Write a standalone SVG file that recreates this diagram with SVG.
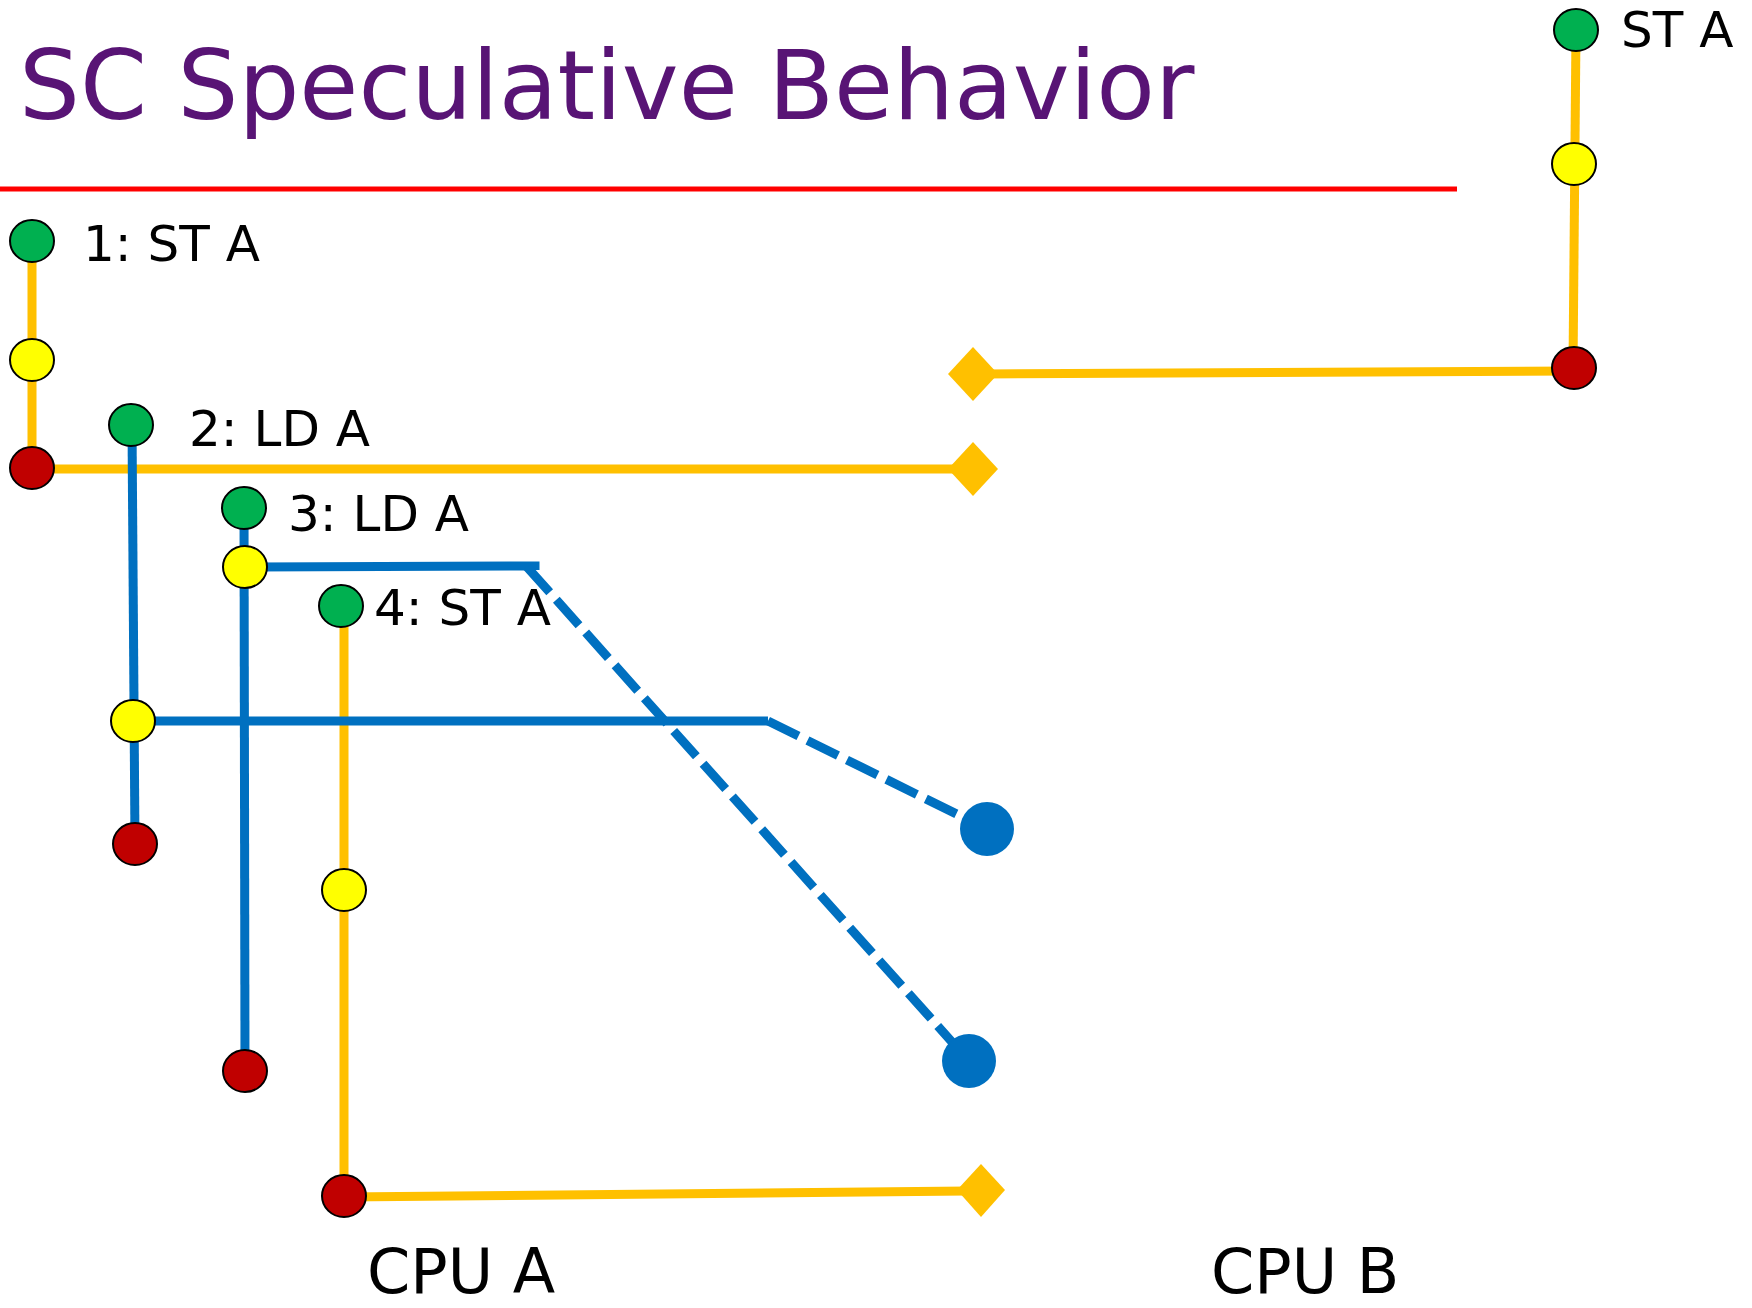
<svg xmlns="http://www.w3.org/2000/svg" width="1752" height="1308" viewBox="0 0 1752 1308">
<style>
.txt{font-family:"DejaVu Sans","Verdana",sans-serif;fill:#000}
.title{font-family:"DejaVu Sans","Verdana",sans-serif;fill:#581475;font-size:96px}
.lbl{font-size:50px}
.cpu{font-size:62px}
.or{stroke:#FFC000;stroke-width:9;fill:none}
.bl{stroke:#0070C0;stroke-width:9;fill:none}
.dash{stroke:#0070C0;stroke-width:9;fill:none;stroke-dasharray:34 10}
.dia{fill:#FFC000}
.g{fill:#00B050;stroke:#000;stroke-width:2}
.y{fill:#FFFF00;stroke:#000;stroke-width:2}
.r{fill:#C00000;stroke:#000;stroke-width:2}
.bd{fill:#0070C0}
</style>
<rect width="1752" height="1308" fill="#fff"/>
<text class="title" x="19" y="119">SC Speculative Behavior</text>
<line x1="0" y1="189" x2="1457" y2="189" stroke="#FF0000" stroke-width="5"/>

<g id="connectors">
  <line class="or" x1="32" y1="241" x2="32" y2="468"/>
  <line class="or" x1="32" y1="469" x2="962" y2="469"/>
  <polygon class="dia" points="948,469 973,442 998,469 973,496"/>
  <line class="or" x1="344" y1="606" x2="344" y2="1196"/>
  <line class="or" x1="344" y1="1197" x2="968" y2="1191"/>
  <polygon class="dia" points="957,1190 981,1164 1005,1190 981,1217"/>
  <line class="or" x1="1576" y1="30" x2="1573" y2="368"/>
  <line class="or" x1="1574" y1="371" x2="985" y2="374"/>
  <polygon class="dia" points="948,374 973,347 998,374 973,401"/>
  <line class="bl" x1="132" y1="425" x2="135" y2="844"/>
  <line class="bl" x1="133" y1="721" x2="768" y2="721"/>
  <line class="bl" x1="244" y1="508" x2="245" y2="1071"/>
  <polyline class="bl" points="245,567 535,566 535,570"/>
  <line class="dash" x1="768" y1="721" x2="987" y2="829"/>
  <line class="dash" x1="527" y1="567" x2="969" y2="1061"/>
</g>

<g id="node-a1">
  <ellipse class="g" cx="32" cy="241" rx="22" ry="21"/>
  <ellipse class="y" cx="32" cy="360" rx="22" ry="21"/>
  <ellipse class="r" cx="32" cy="468" rx="22" ry="21"/>
  <text class="txt lbl" x="83" y="261">1: ST A</text>
</g>
<g id="node-a2">
  <ellipse class="g" cx="131" cy="425" rx="22" ry="21"/>
  <ellipse class="y" cx="133" cy="721" rx="22" ry="21"/>
  <ellipse class="r" cx="135" cy="844" rx="22" ry="21"/>
  <text class="txt lbl" x="189" y="446">2: LD A</text>
</g>
<g id="node-a3">
  <ellipse class="g" cx="244" cy="508" rx="22" ry="21"/>
  <ellipse class="y" cx="245" cy="567" rx="22" ry="21"/>
  <ellipse class="r" cx="245" cy="1071" rx="22" ry="21"/>
  <text class="txt lbl" x="288" y="531">3: LD A</text>
</g>
<g id="node-a4">
  <ellipse class="g" cx="341" cy="606" rx="22" ry="21"/>
  <ellipse class="y" cx="344" cy="890" rx="22" ry="21"/>
  <ellipse class="r" cx="344" cy="1196" rx="22" ry="21"/>
  <text class="txt lbl" x="374" y="625">4: ST A</text>
</g>
<g id="node-b1">
  <ellipse class="g" cx="1576" cy="30" rx="22" ry="21"/>
  <ellipse class="y" cx="1574" cy="164" rx="22" ry="21"/>
  <ellipse class="r" cx="1574" cy="368" rx="22" ry="21"/>
  <text class="txt lbl" x="1621" y="47">ST A</text>
</g>
<g id="spec-dots">
  <ellipse class="bd" cx="987" cy="829" rx="27" ry="27"/>
  <ellipse class="bd" cx="969" cy="1061" rx="27" ry="27"/>
</g>
<g id="cpu-labels">
  <text class="txt cpu" x="367" y="1293">CPU A</text>
  <text class="txt cpu" x="1211" y="1293">CPU B</text>
</g>
</svg>
